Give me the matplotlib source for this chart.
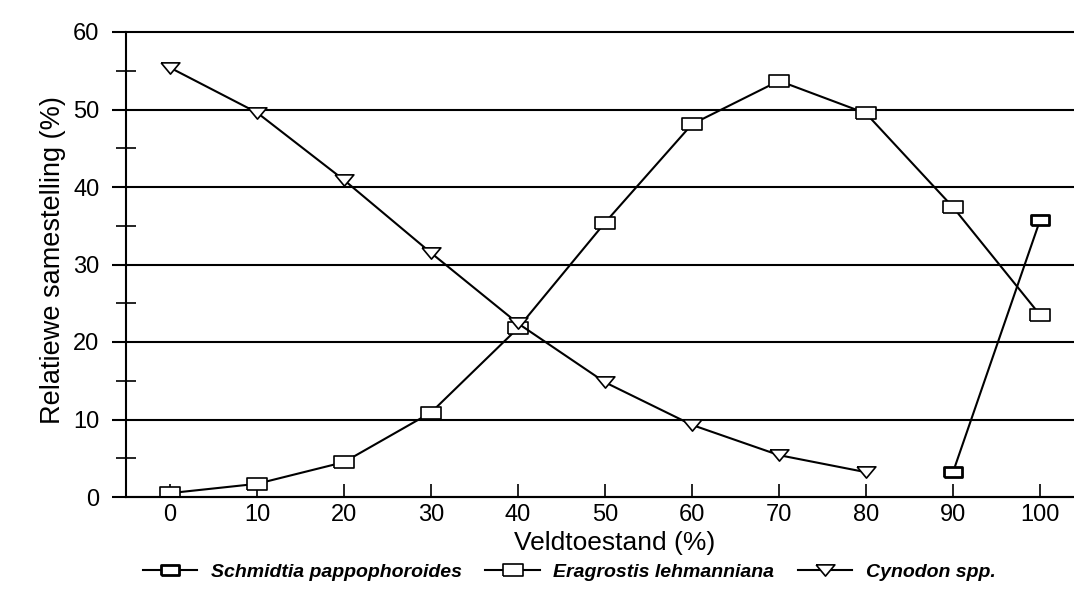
"""Relatiewe samestelling van grasspesies teenoor veldtoestand."""
import numpy as np
from matplotlib import pyplot as plt
from matplotlib.ticker import MultipleLocator

# Veldtoestand (%)
veld = [0, 10, 20, 30, 40, 50, 60, 70, 80, 90, 100]
veld_schmidtia = [90, 100]
veld_cynodon = [0, 10, 20, 30, 40, 50, 60, 70, 80]

# Relatiewe samestelling (%)
schmidtia = [3.2, 35.7]
eragrostis = [0.5, 1.7, 4.5, 10.9, 21.8, 35.4, 48.1, 53.7, 49.5, 37.4, 23.5]
cynodon = [55.4, 49.6, 40.9, 31.5, 22.4, 14.8, 9.3, 5.4, 3.2]

# flat open markers like the scanned original
RECT = [(-1.6, -1), (1.6, -1), (1.6, 1), (-1.6, 1), (-1.6, -1)]
TRI = [(-1, 0.6), (1, 0.6), (0, -0.6), (-1, 0.6)]


def main():
    plt.rcParams['font.family'] = ['Liberation Sans', 'DejaVu Sans']
    fig = plt.figure(figsize=(10.74, 6.05), dpi=100)
    # spine at x=126 px, y=0 at 497 px, y=60 at 32 px
    ax = fig.add_axes([126 / 1074, 1 - 497 / 605, 1 - 126 / 1074, 465 / 605])

    kw = dict(color='black', lw=1.5, mfc='white', mec='black', mew=1.2)
    ax.plot(veld_schmidtia, schmidtia, marker=RECT, ms=12.5,
            label='Schmidtia pappophoroides', **{**kw, 'mew': 2.0})
    ax.plot(veld, eragrostis, marker=RECT, ms=13.7,
            label='Eragrostis lehmanniana', **kw)
    ax.plot(veld_cynodon, cynodon, marker=TRI, ms=13.5,
            label='Cynodon spp.', **kw)

    # x=0 at 170 px, 8.7 px per unit
    ax.set_xlim((126 - 170) / 8.7, (1074 - 170) / 8.7)
    ax.set_ylim(0, 60)
    ax.set_xticks(veld)
    ax.yaxis.set_major_locator(MultipleLocator(10))
    ax.yaxis.set_minor_locator(MultipleLocator(5))
    ax.grid(axis='y', which='major', color='black', lw=1.5)
    for s in ['top', 'right']:
        ax.spines[s].set_visible(False)
    ax.spines['left'].set_linewidth(1.5)
    ax.spines['bottom'].set_linewidth(1.5)
    for line in ax.get_ygridlines():
        line.set_clip_on(False)

    ax.tick_params(axis='x', direction='in', length=9.5, width=1.2,
                   labelsize=17, pad=5)
    ax.tick_params(axis='y', which='major', direction='out', length=10, width=1.5,
                   labelsize=17, pad=9)
    ax.tick_params(axis='y', which='minor', direction='inout', length=14, width=1.2)
    ax.set_xlabel('Veldtoestand (%)', fontsize=19)
    ax.xaxis.set_label_coords(0.515, -0.074)
    ax.set_ylabel('Relatiewe samestelling (%)', fontsize=19.5)
    ax.yaxis.set_label_coords(-0.063, 0.51)

    fig.legend(loc='center', bbox_to_anchor=(0.53, 0.055), ncol=3, frameon=False,
               prop={'style': 'italic', 'weight': 'bold', 'size': 14},
               handlelength=2.8, columnspacing=1.2, handletextpad=0.7)

    plt.savefig('out.png')


if __name__ == '__main__':
    main()
